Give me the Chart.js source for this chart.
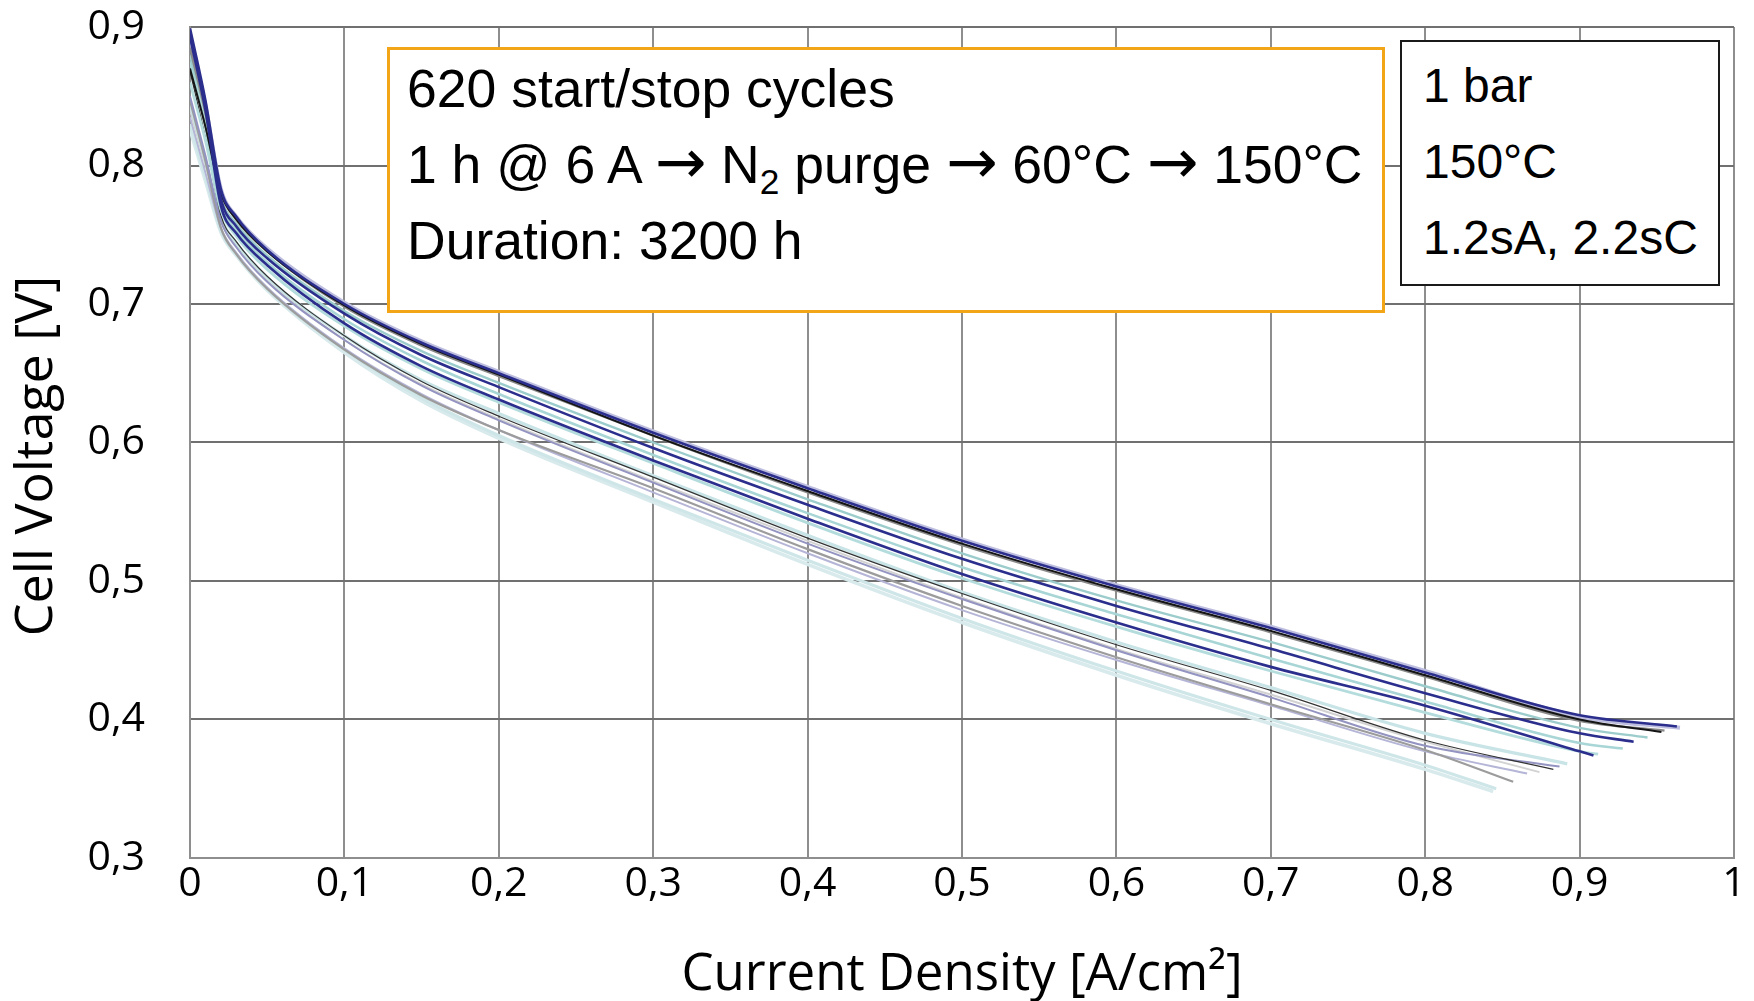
<!DOCTYPE html>
<html lang="en">
<head>
<meta charset="UTF-8">
<title>Polarization curves - 620 start/stop cycles</title>
<script src="https://cdn.jsdelivr.net/npm/chart.js"></script>
<style>
  body { margin: 0; background: #fff; }
  #wrap { position: relative; width: 1754px; height: 1001px; }
  .note { position: absolute; background: #fff; color: #000; box-sizing: border-box; white-space: nowrap;
          font-family: "Liberation Sans", Arial, sans-serif; }
  #cycleNote { left: 387px; top: 47px; width: 998px; height: 266px; border: 3px solid #f2a516;
               font-size: 53.5px; line-height: 76px; padding: 1px 0 0 17px; }
  #condNote { left: 1400px; top: 40px; width: 320px; height: 246px; border: 2px solid #1a1a1a;
              font-size: 48px; line-height: 76px; padding: 6px 0 0 21px; }
  sub { font-size: 0.66em; line-height: 0; vertical-align: -0.32em; }
  .arr { font-family: "DejaVu Sans", sans-serif; font-size: 1.15em; line-height: 0; }
</style>
</head>
<body>
<div id="wrap">
  <canvas id="polChart" width="1754" height="1001"></canvas>
  <div class="note" id="cycleNote">
    <div>620 start/stop cycles</div>
    <div>1 h @ 6 A <span class="arr">→</span> N<sub>2</sub> purge <span class="arr">→</span> 60°C <span class="arr">→</span> 150°C</div>
    <div>Duration: 3200 h</div>
  </div>
  <div class="note" id="condNote">
    <div>1 bar</div>
    <div>150°C</div>
    <div>1.2sA, 2.2sC</div>
  </div>
</div>

<script>
// current density grid [A/cm2], voltages [V]
const currentDensity = [0, 0.01, 0.02, 0.03, 0.05, 0.1, 0.15, 0.2, 0.3, 0.4, 0.5, 0.6, 0.7, 0.8, 0.9];

const navyTop     = [0.899, 0.847, 0.783, 0.763, 0.739, 0.700, 0.672, 0.650, 0.607, 0.567, 0.529, 0.496, 0.466, 0.434, 0.403];
const lavenderTop = [0.893, 0.843, 0.783, 0.763, 0.740, 0.701, 0.673, 0.651, 0.608, 0.568, 0.530, 0.497, 0.467, 0.435, 0.402];
const grayTop     = [0.885, 0.838, 0.781, 0.761, 0.738, 0.698, 0.670, 0.648, 0.605, 0.564, 0.526, 0.493, 0.463, 0.431, 0.399];
const blackTop    = [0.870, 0.828, 0.780, 0.761, 0.738, 0.699, 0.671, 0.649, 0.605, 0.565, 0.527, 0.494, 0.464, 0.432, 0.400];
const tealA       = [0.880, 0.836, 0.777, 0.758, 0.735, 0.695, 0.666, 0.643, 0.600, 0.559, 0.520, 0.486, 0.456, 0.424, 0.394];
const navyB       = [0.896, 0.843, 0.776, 0.756, 0.733, 0.693, 0.663, 0.640, 0.596, 0.555, 0.516, 0.482, 0.451, 0.419, 0.390];
const tealB       = [0.875, 0.828, 0.772, 0.753, 0.730, 0.689, 0.659, 0.635, 0.591, 0.549, 0.510, 0.476, 0.444, 0.413, 0.383];
const navyC       = [0.893, 0.840, 0.771, 0.751, 0.728, 0.686, 0.655, 0.631, 0.587, 0.545, 0.505, 0.470, 0.438, 0.410, 0.377];
const cyanA       = [0.860, 0.818, 0.768, 0.749, 0.725, 0.684, 0.653, 0.629, 0.585, 0.542, 0.502, 0.467, 0.435, 0.405, 0.377];
const cyanB       = [0.845, 0.803, 0.762, 0.744, 0.719, 0.677, 0.645, 0.621, 0.576, 0.533, 0.492, 0.456, 0.423, 0.390, null];
const blackThin   = [0.868, 0.820, 0.764, 0.745, 0.720, 0.677, 0.644, 0.619, 0.575, 0.531, 0.491, 0.454, 0.421, 0.385, null];
const lavenderB   = [0.850, 0.807, 0.760, 0.741, 0.716, 0.674, 0.641, 0.616, 0.571, 0.527, 0.487, 0.450, 0.416, 0.381, null];
const grayLight   = [0.840, 0.800, 0.760, 0.742, 0.717, 0.674, 0.642, 0.617, 0.572, 0.529, 0.488, 0.451, 0.418, 0.384, null];
const grayB       = [0.847, 0.803, 0.755, 0.736, 0.711, 0.667, 0.634, 0.609, 0.567, 0.523, 0.482, 0.445, 0.411, 0.378, null];
const lavenderC   = [0.835, 0.795, 0.755, 0.737, 0.712, 0.668, 0.635, 0.609, 0.564, 0.520, 0.479, 0.443, 0.410, 0.377, null];
const cyanC       = [0.830, 0.792, 0.753, 0.736, 0.711, 0.667, 0.632, 0.605, 0.559, 0.515, 0.473, 0.435, 0.400, 0.367, null];
const cyanBottom  = [0.826, 0.789, 0.752, 0.735, 0.710, 0.665, 0.630, 0.603, 0.557, 0.512, 0.470, 0.432, 0.397, 0.364, null];

// last measured point of each curve, same order as curveOrder
const curveOrder = ['navyTop', 'navyB', 'navyC', 'blackTop', 'grayTop', 'tealA', 'tealB', 'cyanA', 'lavenderTop',
                    'blackThin', 'lavenderB', 'grayB', 'cyanB', 'grayLight', 'lavenderC', 'cyanC', 'cyanBottom'];
const endJ = [0.963, 0.935, 0.909, 0.953, 0.955, 0.944, 0.928, 0.912, 0.965, 0.883, 0.887, 0.857, 0.892, 0.874, 0.866, 0.846, 0.844];
const endV = [0.395, 0.384, 0.374, 0.391, 0.392, 0.387, 0.379, 0.375, 0.394, 0.364, 0.366, 0.355, 0.368, 0.362, 0.361, 0.350, 0.348];

const curves = { navyTop, navyB, navyC, blackTop, grayTop, tealA, tealB, cyanA, lavenderTop,
                 blackThin, lavenderB, grayB, cyanB, grayLight, lavenderC, cyanC, cyanBottom };

const styles = {
    navyTop: ['#2b2e8c', 2.6], navyB: ['#2b2e8c', 2.6], navyC: ['#2b2e8c', 2.6],
    blackTop: ['#151515', 2], grayTop: ['#8a8a8a', 2.4], tealA: ['#9ccccc', 2.4],
    tealB: ['#a8d5d5', 2.6], cyanA: ['#b4dcdd', 2.8], lavenderTop: ['#bdbddf', 4],
    blackThin: ['#333333', 1.2], lavenderB: ['#9494c2', 2], grayB: ['#9c9c9c', 2.2],
    cyanB: ['#c9e4e6', 3.2], grayLight: ['#d2d2d2', 2], lavenderC: ['#b5b5d7', 2],
    cyanC: ['#cfe6e8', 3.2], cyanBottom: ['#d8eaec', 3.6]
};

const datasets = curveOrder.map((name, k) => {
    const v = curves[name];
    const pts = currentDensity.map((j, i) => ({ x: j, y: v[i] })).filter(p => p.y !== null);
    pts.push({ x: endJ[k], y: endV[k] });
    return {
        label: name,
        data: pts,
        borderColor: styles[name][0],
        borderWidth: styles[name][1],
        pointRadius: 0,
        fill: false,
        cubicInterpolationMode: 'monotone'
    };
});

const commaFmt = v => (Math.abs(v) < 1e-9 ? '0' : Math.abs(v - 1) < 1e-9 ? '1' : v.toFixed(1).replace('.', ','));

let ctx = document.getElementById('polChart').getContext('2d');
let polChart = new Chart(ctx, {
    type: 'line',
    data: { datasets: datasets },
    options: {
        responsive: false,
        animation: false,
        layout: { padding: { top: 27, right: 20, left: 0, bottom: 0 } },
        plugins: { legend: { display: false }, tooltip: { enabled: false } },
        scales: {
            x: {
                type: 'linear', min: 0, max: 1,
                ticks: { stepSize: 0.1, callback: commaFmt, color: '#000', padding: 2,
                         font: { family: 'Open Sans', size: 41 }, maxRotation: 0 },
                grid: { color: '#8e8e8e', lineWidth: 2, drawTicks: false },
                border: { color: '#8e8e8e', width: 2 },
                title: { display: true, text: 'Current Density [A/cm²]', color: '#000',
                         font: { family: 'Open Sans', size: 51, lineHeight: 1 }, padding: { top: 0, bottom: 0 } },
                afterFit: s => { s.height = 143; s.paddingLeft = 0; s.paddingRight = 0; }
            },
            y: {
                min: 0.3, max: 0.9,
                ticks: { stepSize: 0.1, callback: commaFmt, color: '#000', padding: 45,
                         font: { family: 'Open Sans', size: 41 } },
                grid: { color: '#707070', lineWidth: 2, drawTicks: false },
                border: { color: '#8e8e8e', width: 2 },
                // trailing spaces push the label slightly below the plot centre, as in the original
                title: { display: true, text: 'Cell Voltage [V]  ', color: '#000',
                         font: { family: 'Open Sans', size: 52 }, padding: { top: 6, bottom: 0 } },
                afterFit: s => { s.width = 190; s.paddingTop = 0; s.paddingBottom = 0; }
            }
        }
    }
});
</script>
</body>
</html>
